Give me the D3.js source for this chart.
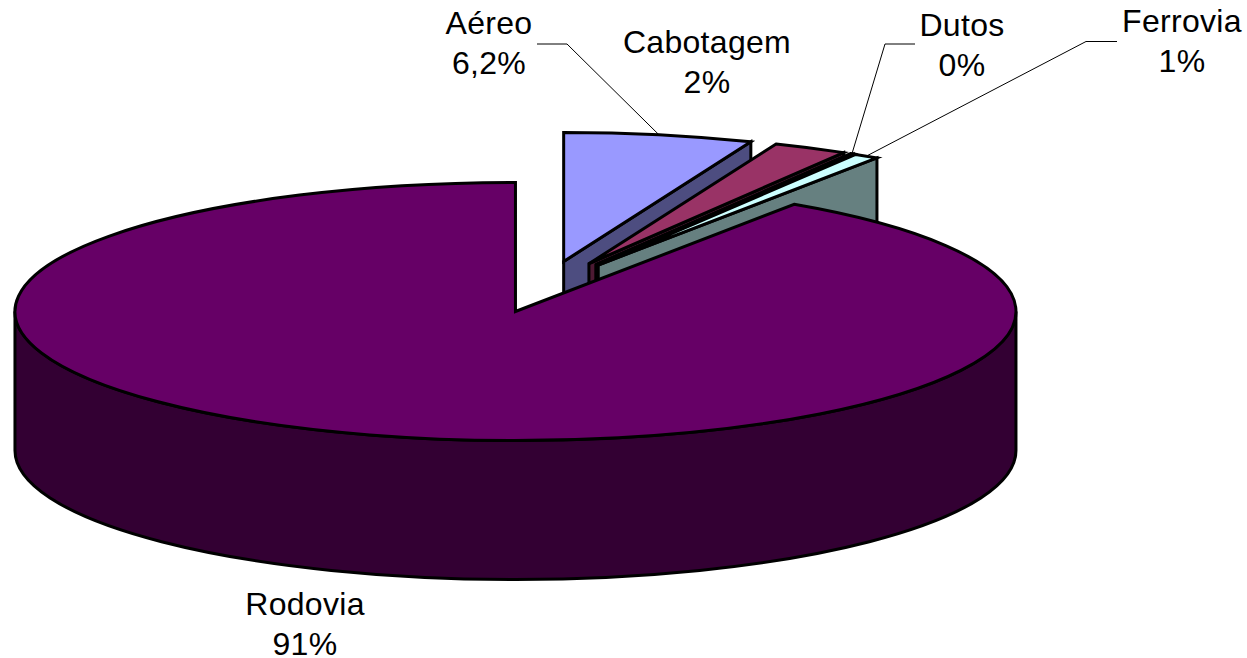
<!DOCTYPE html>
<meta charset="utf-8">
<title>Transporte</title>
<style>
body {
  margin: 0;
  background: #fff;
}
svg {
  display: block;
}
.edge {
  stroke: #000;
  stroke-width: 3px;
  stroke-linejoin: miter;
  vector-effect: non-scaling-stroke;
}
.leader {
  fill: none;
  stroke: #000;
  stroke-width: 1px;
}
text {
  font-family: "Liberation Sans", Arial, sans-serif;
  font-size: 32px;
  letter-spacing: 0.3px;
  fill: #000;
}
</style>
<svg></svg>
<script src="https://d3js.org/d3.v7.min.js"></script>
<script>
// values, the labels are the rounded ones printed on it
var categories = ["Aéreo", "Cabotagem", "Dutos", "Ferrovia", "Rodovia"];
var values = [6.1, 2.4, 0.1, 0.8, 90.6];
var percentLabels = ["6,2%", "2%", "0%", "1%", "91%"];
var topColors = ["#9999ff", "#993366", "#ffffcc", "#ccffff", "#660066"];

// label centre, first baseline, and the leader line's start + elbow (null = no leader)
var labelX = [489, 707, 962, 1182, 305];
var labelY = [34, 53, 36, 32, 615];
var leaderStart = [537, null, 915, 1117, null];
var elbows = [[567, 44], null, [885, 44], [1086, 41.5], null];

var width = 1247,
    height = 658;
var cx = 544.6, cy = 286.8,  // centre of the pie before the slices are pulled out
    rx = 500.5, ry = 129,
    depth = 139,
    explode = 0.2,
    lineHeight = 40;

var svg = d3.select("svg")
    .attr("width", width)
    .attr("height", height);

var pie = d3.pie().sort(null);
var arc = d3.arc().innerRadius(0).outerRadius(rx);
var slices = pie(values);

function rim(t, c) {
  return [c[0] + rx * Math.sin(t), c[1] - ry * Math.cos(t)];
}

function sideWall(t, c) {
  var p = rim(t, c);
  return "M" + c + "L" + p + "L" + [p[0], p[1] + depth] + "L" + [c[0], c[1] + depth] + "Z";
}

// visible part of the outer wall, only the front half of the ellipse has one
function outerWall(a0, a1, c) {
  a0 = Math.max(a0, Math.PI / 2);
  a1 = Math.min(a1, 3 * Math.PI / 2);
  if (a1 <= a0) return null;
  var p0 = rim(a0, c), p1 = rim(a1, c);
  var large = a1 - a0 > Math.PI ? 1 : 0;
  return "M" + p0 +
      "A" + rx + "," + ry + " 0 " + large + " 1 " + p1 +
      "L" + [p1[0], p1[1] + depth] +
      "A" + rx + "," + ry + " 0 " + large + " 0 " + [p0[0], p0[1] + depth] + "Z";
}

var wallColor = function(col) {
  var c = d3.rgb(col);
  return d3.rgb(c.r / 2, c.g / 2, c.b / 2).formatHex();
};

slices.forEach(function(d, i) {
  var mid = (d.startAngle + d.endAngle) / 2;
  var c = [cx + explode * rx * Math.sin(mid), cy - explode * ry * Math.cos(mid)];
  d.center = c;
  d.mid = mid;
  var g = svg.append("g");
  var walls = [];
  if (Math.sin(d.endAngle) > 1e-6) walls.push(sideWall(d.endAngle, c));
  if (Math.sin(d.startAngle) < -1e-6) walls.push(sideWall(d.startAngle, c));
  var outer = outerWall(d.startAngle, d.endAngle, c);
  if (outer) walls.push(outer);
  g.selectAll("path.wall")
    .data(walls)
    .enter().append("path")
      .attr("class", "wall edge")
      .attr("d", function(w) { return w; })
      .attr("fill", wallColor(topColors[i]));
  g.append("path")
      .attr("class", "edge")
      .attr("d", arc(d))
      .attr("fill", topColors[i])
      .attr("transform", "translate(" + c + ") scale(1," + (ry / rx) + ")");
});

// leader lines
slices.forEach(function(d, i) {
  if (!elbows[i]) return;
  var end = rim(d.mid, d.center);
  svg.append("path")
      .attr("class", "leader")
      .attr("d", d3.line()([[leaderStart[i], elbows[i][1]], elbows[i], end]));
});

// labels
categories.forEach(function(name, i) {
  var t = svg.append("text")
      .attr("text-anchor", "middle")
      .attr("x", labelX[i])
      .attr("y", labelY[i]);
  t.append("tspan").attr("x", labelX[i]).text(name);
  t.append("tspan").attr("x", labelX[i]).attr("dy", lineHeight).text(percentLabels[i]);
});
</script>
